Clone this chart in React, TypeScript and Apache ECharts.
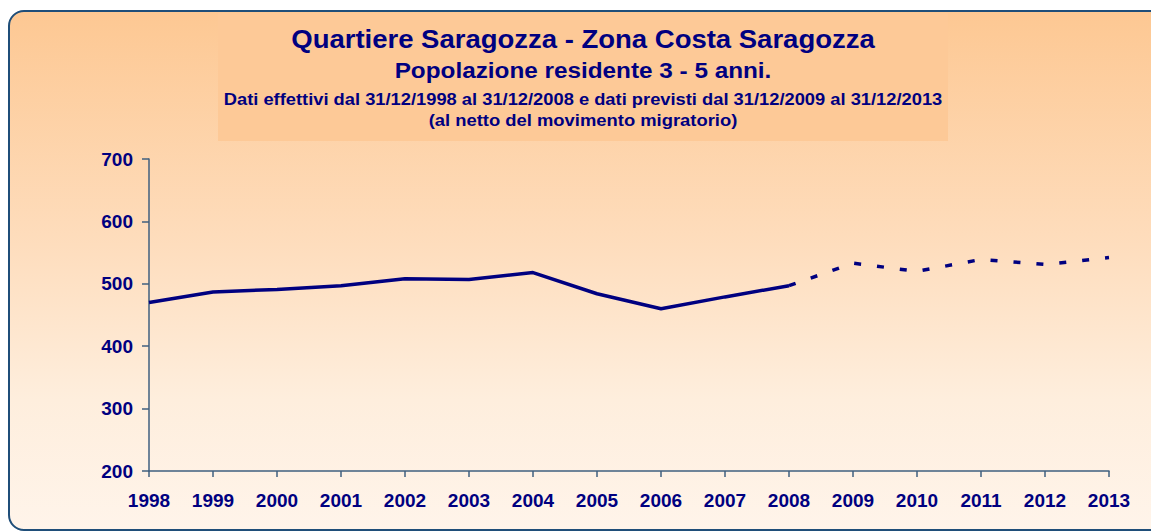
import React, { useEffect, useRef } from "react";
import * as echarts from "echarts";

const years = ["1998","1999","2000","2001","2002","2003","2004","2005","2006","2007","2008","2009","2010","2011","2012","2013"];
const actual = [470, 487, 491, 497, 508, 507, 518, 484, 460, 479, 497, null, null, null, null, null];
const forecast = [null, null, null, null, null, null, null, null, null, null, 497, 533, 520, 539, 531, 542];
const yTicks = { min: 200, max: 700, interval: 100 };

const titleLines = [
  "Quartiere Saragozza - Zona Costa Saragozza",
  "Popolazione residente 3 - 5 anni.",
  "Dati effettivi dal 31/12/1998 al 31/12/2008 e dati previsti dal 31/12/2009 al 31/12/2013",
  "(al netto del movimento migratorio)",
];

const NAVY = "#000080";
const FONT = "'Liberation Sans', Arial, sans-serif";

export default function App() {
  const ref = useRef<HTMLDivElement>(null);
  useEffect(() => {
    if (!ref.current) return;
    const chart = echarts.init(ref.current, null, { renderer: "svg" });
    const lineSpecs = [
      { y: 39.5, size: 25, sx: 1.1 },
      { y: 70.5, size: 22, sx: 1.105 },
      { y: 99, size: 16, sx: 1.145 },
      { y: 120.5, size: 16, sx: 1.15 },
    ];
    chart.setOption({
      animation: false,
      backgroundColor: "transparent",
      graphic: [
        {
          type: "rect",
          z: -1,
          shape: { x: 218, y: 13, width: 730, height: 128 },
          style: { fill: "#FDC997" },
          silent: true,
        },
        ...titleLines.map((t, i) => ({
          type: "text",
          x: 583,
          y: lineSpecs[i].y,
          scaleX: lineSpecs[i].sx,
          style: {
            text: t,
            fill: NAVY,
            font: `bold ${lineSpecs[i].size}px ${FONT}`,
            align: "center",
            verticalAlign: "middle",
          },
        })),
      ],
      grid: { left: 149, right: 42, top: 159, bottom: 60, containLabel: false },
      xAxis: {
        type: "category",
        data: years,
        boundaryGap: false,
        axisLine: { lineStyle: { color: "#3F5F7F", width: 1.5 } },
        axisTick: { show: true, length: 6, alignWithLabel: true, lineStyle: { color: "#3F5F7F", width: 1.5 } },
        axisLabel: { color: NAVY, fontWeight: "bold", fontSize: 19, fontFamily: FONT, margin: 20, interval: 0 },
        splitLine: { show: false },
      },
      yAxis: {
        type: "value",
        min: yTicks.min,
        max: yTicks.max,
        interval: yTicks.interval,
        axisLine: { show: true, lineStyle: { color: "#3F5F7F", width: 1.5 } },
        axisTick: { show: true, length: 7, lineStyle: { color: "#3F5F7F", width: 1.5 } },
        axisLabel: { color: NAVY, fontWeight: "bold", fontSize: 19, fontFamily: FONT, margin: 16 },
        splitLine: { show: false },
      },
      series: [
        {
          type: "line",
          data: actual,
          showSymbol: false,
          symbol: "none",
          lineStyle: { color: NAVY, width: 3.5 },
          connectNulls: false,
        },
        {
          type: "line",
          data: forecast,
          showSymbol: false,
          symbol: "none",
          lineStyle: { color: NAVY, width: 3.5, type: [7, 16] },
          connectNulls: false,
        },
      ],
    });
    return () => chart.dispose();
  }, []);

  return (
    <div style={{ position: "fixed", left: 0, top: 0, width: 1151, height: 531, overflow: "hidden", background: "#fff" }}>
      <div
        style={{
          position: "absolute",
          left: 8,
          top: 10,
          width: 1180,
          height: 517,
          border: "2px solid #1F4E79",
          borderRadius: 16,
          background: "linear-gradient(to bottom, #FDC893 0%, #FEDDBD 45%, #FEEEDD 75%, #FFF4EA 100%)",
        }}
      />
      <div ref={ref} style={{ position: "absolute", left: 0, top: 0, width: 1151, height: 531 }} />
    </div>
  );
}
